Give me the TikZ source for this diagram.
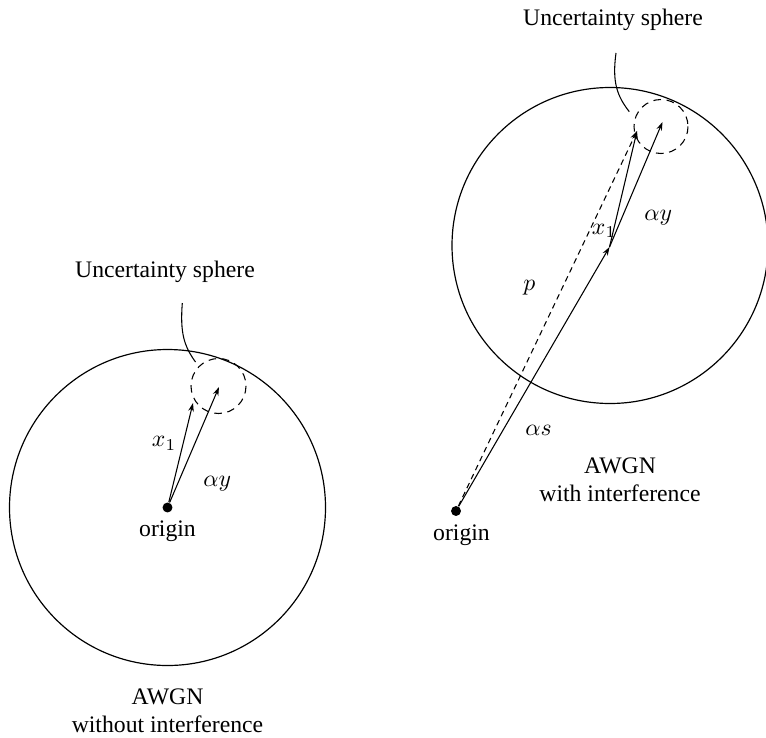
\documentclass[tikz,border=0pt]{standalone}
\usepackage{fontspec}
\setmainfont{Liberation Serif}
\usetikzlibrary{arrows.meta}

\begin{document}
\begin{tikzpicture}[x=0.422pt, y=-0.422pt,
  vec/.style={-{Stealth[length=3.6pt, width=2.4pt]}, line width=0.45pt},
  dot/.style={circle, fill, inner sep=0pt, minimum size=4.2pt},
  ring/.style={line width=0.5pt},
  fuzz/.style={line width=0.45pt, dash pattern=on 3.2pt off 2.4pt},
  leader/.style={line width=0.45pt},
  lbl/.style={inner sep=0pt, anchor=base west},
  txt/.style={inner sep=0pt, anchor=base}
]
  \useasboundingbox (0,0) rectangle (766,737);

  % without interference
  \coordinate (lc) at (167.5,507.5);
  \coordinate (lx) at (193,403);
  \coordinate (ly) at (219,387);
  \draw[ring] (lc) circle[radius=158];
  \draw[fuzz] (218.5,386) circle[radius=27.5];
  \node[dot] (lo) at (lc) {};
  \draw[vec] (lo) -- (lx);
  \draw[vec] (lo) -- (ly);

  \node[lbl] (lx1) at (151.5,446.5) {$x_1$};
  \node[lbl] (lay) at (203,486) {$\alpha y$};
  \node[txt] (lorig) at (167.5,536) {origin};
  \node[txt] (lus) at (165,277) {Uncertainty sphere};
  \coordinate (lt) at (182.3,303);
  \coordinate (le) at (195.5,362);
  \draw[leader] (lt) .. controls (180,333) and (184,346) .. (le);
  \node[inner sep=0pt, anchor=north, align=center] (lname) at (167.5,688)
    {AWGN\\without interference};

  % with interference
  \coordinate (rc) at (609.5,247);
  \coordinate (rx) at (637,131);
  \coordinate (ry) at (662.5,122);
  \draw[ring] (610,245.5) circle[radius=158];
  \draw[fuzz] (661,126.5) circle[radius=27];
  \node[dot] (ro) at (456,511) {};
  \draw[vec] (ro) -- (rc);
  \draw[vec] (rc) -- (rx);
  \draw[vec] (rc) -- (ry);
  \draw[vec, dash pattern=on 2.4pt off 1.8pt] (ro) -- (rx);

  \node[lbl] (rx1) at (591.5,234) {$x_1$};
  \node[lbl] (ray) at (644,220) {$\alpha y$};
  \node[lbl] (rp) at (523,290) {$p$};
  \node[lbl] (ras) at (525,435) {$\alpha s$};
  \node[txt] (rorig) at (461.5,540) {origin};
  \node[txt] (rus) at (613,25) {Uncertainty sphere};
  \coordinate (rt) at (616,53);
  \coordinate (re) at (629.3,111.7);
  \draw[leader] (rt) .. controls (612,82) and (617,96) .. (re);
  \node[inner sep=0pt, anchor=north, align=center] (rname) at (620,457)
    {AWGN\\with interference};
\end{tikzpicture}
\end{document}
